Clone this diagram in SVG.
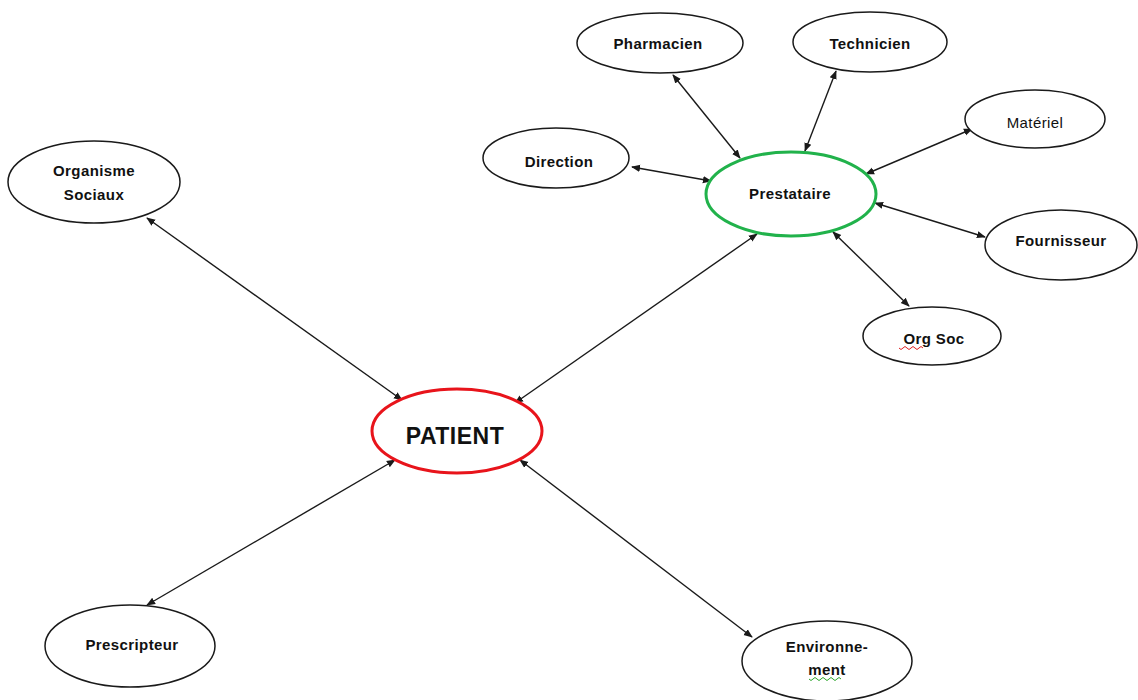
<svg xmlns="http://www.w3.org/2000/svg" width="1138" height="700" viewBox="0 0 1138 700">
<style>
.n{fill:#fff;stroke:#1a1a1a;stroke-width:1.5}
.t{font-family:"Liberation Sans",Arial,sans-serif;font-size:15px;font-weight:bold;fill:#111;text-anchor:middle;letter-spacing:0.4px}
.r{font-weight:normal}
.c{stroke:#1a1a1a;stroke-width:1.4;fill:none;marker-start:url(#a);marker-end:url(#a)}
</style>
<defs>
<marker id="a" viewBox="0 0 10 10" refX="9" refY="5" markerWidth="9" markerHeight="9" markerUnits="userSpaceOnUse" orient="auto-start-reverse">
<path d="M0,1 L10,5 L0,9 z" fill="#1a1a1a"/>
</marker>
</defs>
<rect width="1138" height="700" fill="#fff"/>
<g id="connectors">
<line class="c" x1="147" y1="218" x2="402" y2="400"/>
<line class="c" x1="147" y1="605" x2="395" y2="460"/>
<line class="c" x1="520" y1="460" x2="752" y2="637"/>
<line class="c" x1="515" y1="403" x2="757" y2="234"/>
<line class="c" x1="673" y1="75" x2="740" y2="158"/>
<line class="c" x1="632" y1="167" x2="711" y2="181"/>
<line class="c" x1="836" y1="71" x2="805" y2="151"/>
<line class="c" x1="972" y1="129" x2="866" y2="174"/>
<line class="c" x1="875" y1="203" x2="985" y2="237"/>
<line class="c" x1="833" y1="232" x2="909" y2="306"/>
</g>
<g id="patient">
<ellipse cx="457" cy="431" rx="85" ry="42" fill="#fff" stroke="#e8141b" stroke-width="3"/>
<text class="t" x="455" y="444" style="font-size:23px;letter-spacing:0.5px">PATIENT</text>
</g>
<g id="prestataire">
<ellipse cx="791" cy="194" rx="85" ry="42" fill="#fff" stroke="#21b24b" stroke-width="3"/>
<text class="t" x="790" y="199">Prestataire</text>
</g>
<g id="organisme">
<ellipse class="n" cx="94" cy="182" rx="86" ry="41"/>
<text class="t" x="94" y="176">Organisme</text>
<text class="t" x="94" y="200">Sociaux</text>
</g>
<g id="prescripteur">
<ellipse class="n" cx="130" cy="646" rx="85" ry="41"/>
<text class="t" x="132" y="650">Prescripteur</text>
</g>
<g id="environnement">
<ellipse class="n" cx="827" cy="661" rx="85" ry="40"/>
<text class="t" x="827" y="652">Environne-</text>
<text class="t" x="827" y="675">ment</text>
<path d="M809,679 q2,3 4,0 t4,0 t4,0 t4,0 t4,0 t4,0 t4,0 t4,0" fill="none" stroke="#2aa52a" stroke-width="1"/>
</g>
<g id="pharmacien">
<ellipse class="n" cx="660" cy="43" rx="83" ry="30"/>
<text class="t" x="658" y="49">Pharmacien</text>
</g>
<g id="direction">
<ellipse class="n" cx="556" cy="158" rx="73" ry="30"/>
<text class="t" x="559" y="167">Direction</text>
</g>
<g id="technicien">
<ellipse class="n" cx="870" cy="42" rx="77" ry="30"/>
<text class="t" x="870" y="49">Technicien</text>
</g>
<g id="materiel">
<ellipse class="n" cx="1035" cy="119" rx="70" ry="29"/>
<text class="t r" x="1035" y="128">Matériel</text>
</g>
<g id="fournisseur">
<ellipse class="n" cx="1061" cy="245" rx="76" ry="35"/>
<text class="t" x="1061" y="246">Fournisseur</text>
</g>
<g id="orgsoc">
<ellipse class="n" cx="932" cy="336" rx="69" ry="29"/>
<text class="t" x="934" y="344">Org Soc</text>
<path d="M899,348 q2,3 4,0 t4,0 t4,0 t4,0 t4,0 t4,0" fill="none" stroke="#e02020" stroke-width="1"/>
</g>
</svg>
